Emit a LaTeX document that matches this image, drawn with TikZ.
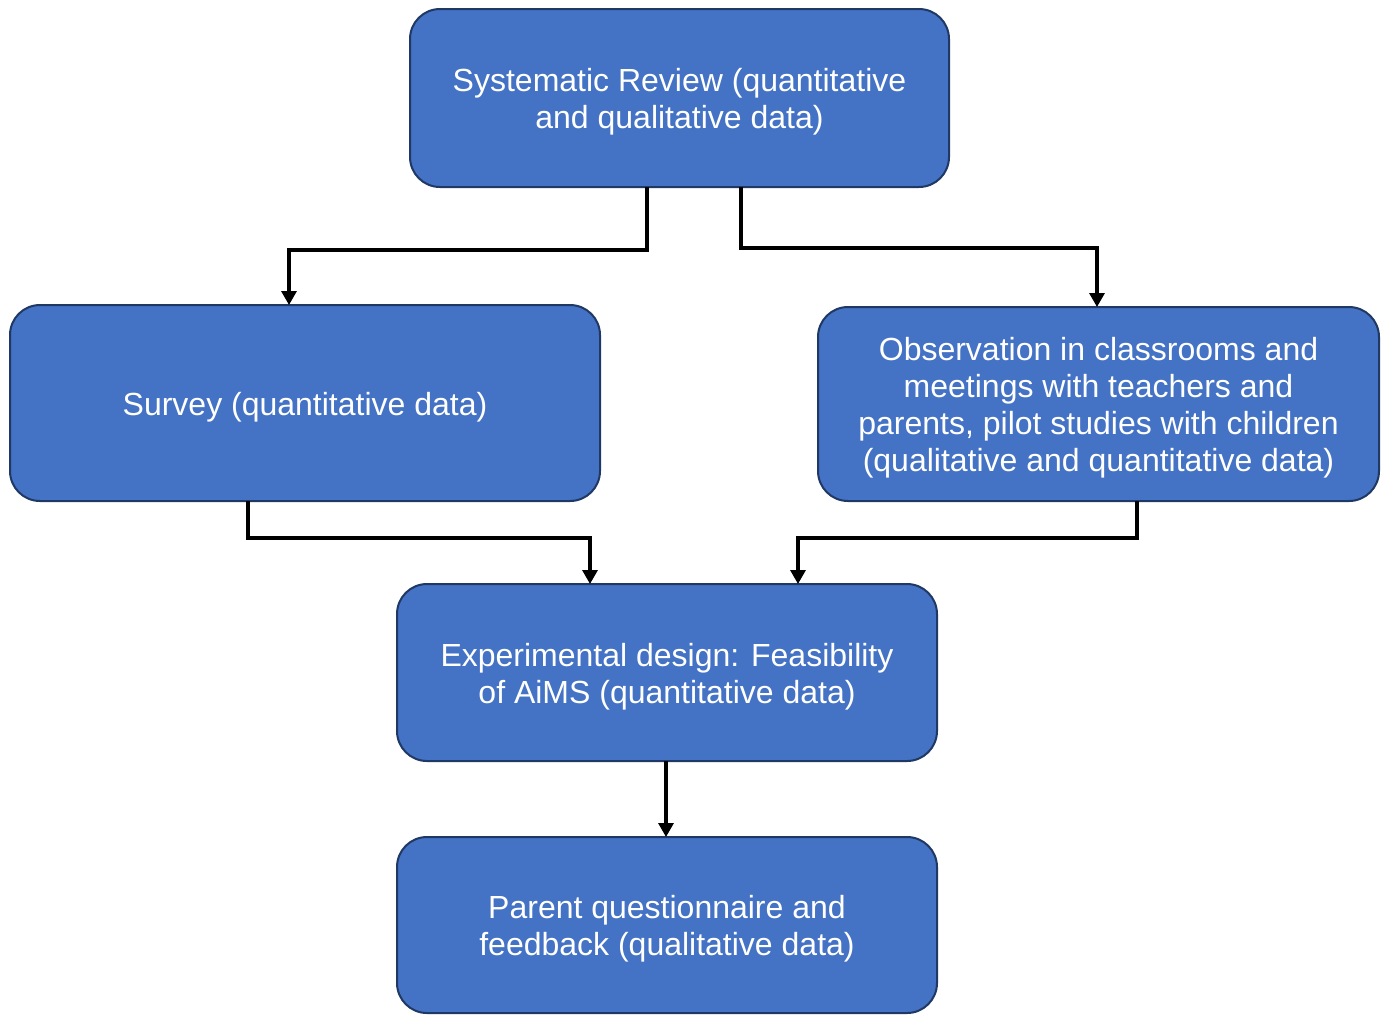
\documentclass[tikz,border=0pt]{standalone}
\usepackage{fontspec}
\setmainfont{Liberation Sans}
\usetikzlibrary{arrows.meta}
\definecolor{boxfill}{HTML}{4472C4}
\definecolor{boxline}{HTML}{1F3864}
% one line of box text, set a little lower while keeping its extents
\newcommand{\boxline}[1]{\raisebox{-2pt}[\height][\depth]{#1}}
\tikzset{
  stagebox/.style={draw=boxline, fill=boxfill, line width=1pt, rounded corners=15pt,
    text=white, align=center, inner sep=0pt, outer sep=0pt,
    font=\fontsize{16pt}{18.5pt}\selectfont},
  flow/.style={line width=1.6pt, -{Triangle[width=7.5pt,length=7pt]}}
}
\begin{document}
\begin{tikzpicture}[x=0.5pt,y=-0.5pt]
\useasboundingbox (0,0) rectangle (1387,1014);
% research stages
\node[stagebox, minimum width=269.5pt, minimum height=89pt] (review) at (679.5,98)
  {\boxline{Systematic Review (quantitative}\\\boxline{and qualitative data)}};
\node[stagebox, minimum width=295pt, minimum height=98pt] (survey) at (305,403)
  {\boxline{Survey (quantitative data)}};
\node[stagebox, minimum width=280.5pt, minimum height=97pt] (observe) at (1098.5,404)
  {\boxline{Observation in classrooms and}\\\boxline{meetings with teachers and}\\
   \boxline{parents, pilot studies with children}\\\boxline{(qualitative and quantitative data)}};
\node[stagebox, minimum width=270pt, minimum height=88.5pt] (experiment) at (667,672.5)
  {\boxline{Experimental design: Feasibility}\\\boxline{of AiMS (quantitative data)}};
\node[stagebox, minimum width=270pt, minimum height=88pt] (parent) at (667,925)
  {\boxline{Parent questionnaire and}\\\boxline{feedback (qualitative data)}};
% connectors
\draw[flow] (review.south -| 647,0) |- (289,250) -- (survey.north -| 289,0);
\draw[flow] (review.south -| 741,0) |- (1097,248) -- (observe.north -| 1097,0);
\draw[flow] (survey.south -| 248,0) |- (590,538) -- (experiment.north -| 590,0);
\draw[flow] (observe.south -| 1137,0) |- (798,538) -- (experiment.north -| 798,0);
\draw[flow] (experiment.south -| 666,0) -- (parent.north -| 666,0);
\end{tikzpicture}
\end{document}
